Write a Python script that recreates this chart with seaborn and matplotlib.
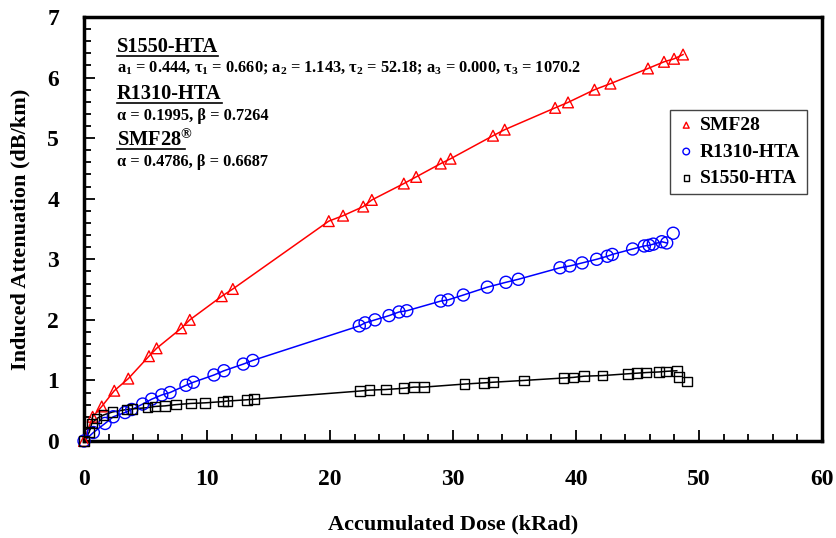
import numpy as np
import pandas as pd
import matplotlib
matplotlib.use('Agg')
import matplotlib.pyplot as plt
from matplotlib.ticker import MultipleLocator
import seaborn as sns

# SMF28 (red triangles)
smf_dose = [0, 0.7, 1.44, 2.46, 3.6, 5.28, 5.9, 7.9, 8.6, 11.2, 12.1,
            19.9, 21.06, 22.7, 23.4, 26.0, 27.0, 29.0, 29.8, 33.25, 34.2,
            38.3, 39.35, 41.5, 42.8, 45.85, 47.15, 47.97, 48.7]
smf_att = [0, 0.40, 0.57, 0.83, 1.03, 1.40, 1.53, 1.86, 2.0, 2.39, 2.51,
           3.63, 3.72, 3.87, 3.98, 4.25, 4.36, 4.58, 4.66, 5.04, 5.14,
           5.50, 5.59, 5.80, 5.90, 6.15, 6.26, 6.31, 6.38]

# R1310-HTA (blue circles)
r13_dose = [0, 0.76, 1.71, 2.38, 3.33, 3.88, 4.77, 5.5, 6.32, 6.99, 8.29, 8.89,
            10.57, 11.38, 12.95, 13.72, 22.38, 22.85, 23.66, 24.8, 25.61, 26.24,
            29.0, 29.6, 30.84, 32.79, 34.3, 35.31, 38.7, 39.5, 40.5, 41.68,
            42.54, 42.95, 44.6, 45.55, 45.93, 46.28, 46.97, 47.37, 47.9]
r13_att = [0, 0.14, 0.29, 0.40, 0.47, 0.52, 0.61, 0.69, 0.76, 0.80, 0.92, 0.97,
           1.09, 1.16, 1.27, 1.33, 1.90, 1.95, 2.00, 2.07, 2.13, 2.15,
           2.31, 2.33, 2.41, 2.54, 2.62, 2.67, 2.86, 2.89, 2.94, 3.00,
           3.05, 3.08, 3.17, 3.22, 3.23, 3.25, 3.29, 3.27, 3.43]

# S1550-HTA (black squares)
s15_dose = [0, 0.43, 0.63, 1.03, 1.59, 2.33, 3.47, 3.94, 5.15, 5.77, 6.59, 7.46,
            8.68, 9.84, 11.28, 11.68, 13.23, 13.84, 22.44, 23.2, 24.53, 25.96,
            26.83, 27.64, 30.92, 32.52, 33.23, 35.77, 38.97, 39.78, 40.65, 42.14,
            44.25, 44.98, 45.69, 46.77, 47.32, 48.19, 48.37, 49.0]
s15_att = [0, 0.15, 0.29, 0.37, 0.43, 0.48, 0.52, 0.53, 0.55, 0.57, 0.58, 0.60,
           0.62, 0.63, 0.65, 0.66, 0.68, 0.69, 0.825, 0.84, 0.85, 0.87,
           0.89, 0.89, 0.94, 0.96, 0.97, 1.00, 1.04, 1.05, 1.07, 1.08,
           1.11, 1.12, 1.13, 1.14, 1.15, 1.16, 1.06, 0.98]

# how many points of each series the fitted curve runs through
n_fit = {'SMF28': len(smf_dose), 'R1310-HTA': len(r13_dose) - 1, 'S1550-HTA': len(s15_dose) - 2}

plt.rcParams['font.family'] = ['Liberation Serif', 'DejaVu Serif']
plt.rcParams['font.weight'] = 'bold'
plt.rcParams['mathtext.fontset'] = 'custom'
plt.rcParams['mathtext.rm'] = 'Liberation Serif:bold'
plt.rcParams['mathtext.it'] = 'Liberation Serif:bold'
plt.rcParams['mathtext.bf'] = 'Liberation Serif:bold'

fig = plt.figure(figsize=(8.36, 5.38), dpi=100)
ax = fig.add_axes([0.1005, 0.1803, 0.8828, 0.7881])

series = [
    ('SMF28', smf_dose, smf_att, 'red', '^', 60),
    ('R1310-HTA', r13_dose, r13_att, 'blue', 'o', 75),
    ('S1550-HTA', s15_dose, s15_att, 'black', 's', 48),
]

for name, xs, ys, col, mk, sz in series:
    df = pd.DataFrame({'dose': xs, 'att': ys})
    fit = df.iloc[:n_fit[name]]
    sns.lineplot(data=fit, x='dose', y='att', color=col, lw=1.1, sort=False,
                 estimator=None, legend=False, ax=ax)
    sns.scatterplot(data=df, x='dose', y='att', marker=mk, s=sz, facecolors='none',
                    edgecolors=col, linewidth=1.0, label=name, ax=ax, zorder=3,
                    clip_on=False)

ax.set_xlim(0, 60)
ax.set_ylim(0, 7)
ax.xaxis.set_major_locator(MultipleLocator(10))
ax.xaxis.set_minor_locator(MultipleLocator(2))
ax.yaxis.set_major_locator(MultipleLocator(1))
ax.yaxis.set_minor_locator(MultipleLocator(0.2))
ax.tick_params(which='both', direction='in', top=False, right=False, width=1.3)
ax.tick_params(which='major', length=8)
ax.tick_params(which='minor', length=5)
ax.tick_params(axis='x', which='major', pad=20, labelsize=17)
ax.tick_params(axis='y', which='major', pad=18, labelsize=17)
for sp in ax.spines.values():
    sp.set_linewidth(2.5)

ax.set_xlabel('Accumulated Dose (kRad)', fontsize=16, fontweight='bold', labelpad=18)
ax.set_ylabel('Induced Attenuation (dB/km)', fontsize=16, fontweight='bold', labelpad=12)

leg = ax.legend(loc='upper right', bbox_to_anchor=(0.98, 0.781), borderaxespad=0,
                fontsize=14, markerscale=0.55, handletextpad=0.2, borderpad=0.35,
                labelspacing=0.45, handlelength=1.0, fancybox=False, framealpha=1)
leg.get_frame().set_edgecolor('#444444')
leg.get_frame().set_linewidth(1.0)

# fit parameters block
headers = [('S1550-HTA', 0.929), ('R1310-HTA', 0.818), ('SMF28$^{®}$', 0.710)]
params = [
    ('a$_1$ = 0.444, τ$_1$ = 0.660; a$_2$ = 1.143, τ$_2$ = 52.18; a$_3$ = 0.000, τ$_3$ = 1070.2', 0.880),
    ('α = 0.1995, β = 0.7264', 0.767),
    ('α = 0.4786, β = 0.6687', 0.658),
]
head_texts = []
for txt, yy in headers:
    head_texts.append(ax.text(0.0447, yy, txt, transform=ax.transAxes, fontsize=14.7,
                              fontweight='bold', va='center', ha='left'))
for txt, yy in params:
    ax.text(0.0447, yy, txt, transform=ax.transAxes, fontsize=11.8,
            fontweight='bold', va='center', ha='left')

# underline the headers
fig.canvas.draw()
renderer = fig.canvas.get_renderer()
inv = fig.transFigure.inverted()
for t, (txt, yy) in zip(head_texts, headers):
    bb = t.get_window_extent(renderer)
    x0, y0 = inv.transform((bb.x0, bb.y0 + 1))
    x1 = inv.transform((bb.x1 - (8 if '®' in txt else 0), bb.y0))[0]
    fig.add_artist(plt.Line2D([x0, x1], [y0, y0], transform=fig.transFigure,
                              color='black', lw=1.2))

fig.savefig('out.png', dpi=100)
